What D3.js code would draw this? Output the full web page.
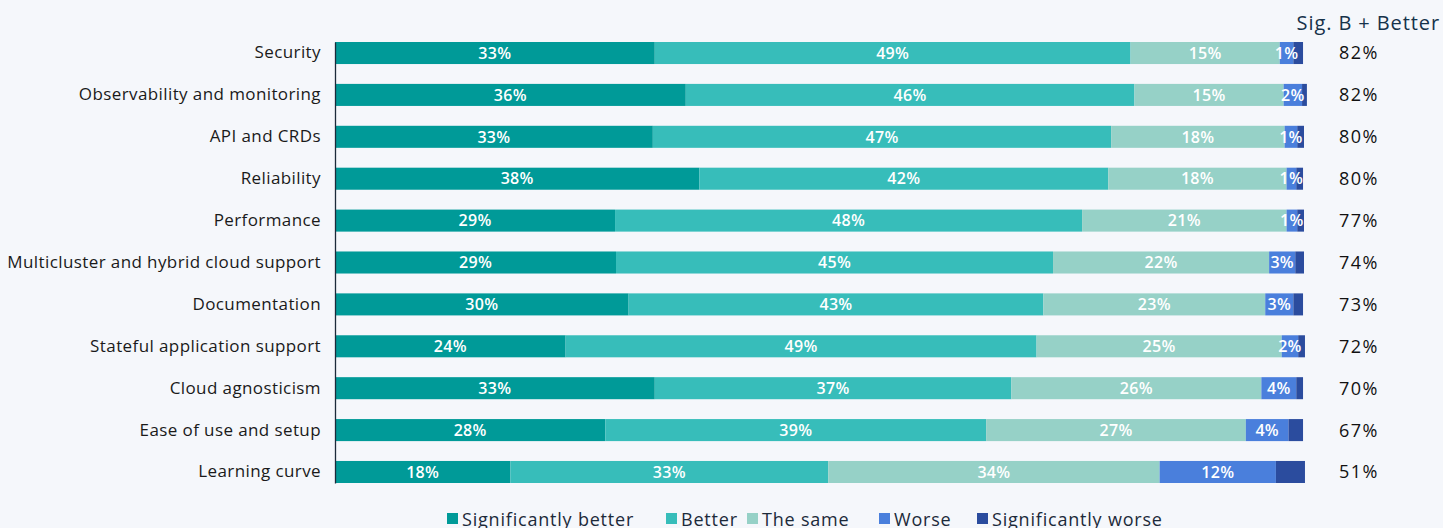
<!DOCTYPE html>
<html>
<head>
<meta charset="utf-8">
<script src="https://cdn.jsdelivr.net/npm/d3@7"></script>
<style>
  body { margin: 0; background: #f5f7fb; }
  svg { display: block; }
</style>
</head>
<body>
<div id="chart"></div>
<script>
const width = 1443;
const height = 528;
const margin = {top: 42, right: 139, bottom: 45, left: 335};

const categories = [
    "Security", "Observability and monitoring", "API and CRDs", "Reliability",
    "Performance", "Multicluster and hybrid cloud support", "Documentation",
    "Stateful application support", "Cloud agnosticism", "Ease of use and setup ",
    "Learning curve"
];
const seriesNames = ["Significantly better", "Better", "The same", "Worse", "Significantly worse"];
const colors = ["#009a98", "#37bdba", "#96d1c7", "#4a7fdc", "#2b4c9e"];

// values (percent)
const sigBetter = [33.0, 36.2, 32.8, 37.6, 28.9, 29.0, 30.3, 23.8, 33.0, 27.9, 18.1];
const better    = [49.1, 46.3, 47.3, 42.2, 48.2, 45.1, 42.8, 48.6, 36.8, 39.3, 32.8];
const same      = [15.4, 15.4, 17.9, 18.4, 21.1, 22.3, 22.9, 25.3, 25.8, 26.8, 34.2];
const worse     = [1.4, 1.9, 1.3, 1.0, 1.1, 2.7, 2.9, 1.7, 3.6, 4.4, 12.0];
const sigWorse  = [1.0, 0.5, 0.7, 0.7, 0.7, 0.9, 1.0, 0.7, 0.7, 1.5, 3.0];
const sigBPlusBetter = [82, 82, 80, 80, 77, 74, 73, 72, 70, 67, 51];

const series = [sigBetter, better, same, worse, sigWorse];

const rows = categories.map((c, i) => {
    const r = {cat: c};
    seriesNames.forEach((s, j) => r[s] = series[j][i]);
    return r;
});

const stacked = d3.stack().keys(seriesNames)(rows);

const svg = d3.select("#chart").append("svg")
    .attr("width", width)
    .attr("height", height);

const x = d3.scaleLinear().domain([0, 100]).range([margin.left, margin.left + 969]);
const y = d3.scaleBand().domain(categories)
    .range([margin.top, height - margin.bottom])
    .paddingInner(0.474)
    .paddingOuter(0);

const font = "Open Sans, sans-serif";

svg.append("g")
    .selectAll("g")
    .data(stacked)
    .join("g")
    .attr("fill", (d, i) => colors[i])
    .selectAll("rect")
    .data(d => d)
    .join("rect")
    .attr("x", d => x(d[0]))
    .attr("y", d => y(d.data.cat))
    .attr("width", d => x(d[1]) - x(d[0]))
    .attr("height", y.bandwidth());

// labels inside segments (not for significantly worse)
svg.append("g")
    .selectAll("g")
    .data(stacked.slice(0, 4))
    .join("g")
    .selectAll("text")
    .data(d => d)
    .join("text")
    .attr("x", d => (x(d[0]) + x(d[1])) / 2)
    .attr("y", d => y(d.data.cat) + y.bandwidth() / 2)
    .attr("dy", "0.36em")
    .attr("text-anchor", "middle")
    .attr("fill", "white")
    .style("font-family", font)
    .style("font-size", "16px")
    .style("font-weight", 600)
    .style("letter-spacing", "0.3px")
    .text(d => Math.round(d[1] - d[0]) + "%");

// y axis
const yAxis = svg.append("g")
    .attr("transform", "translate(" + margin.left + ",0)")
    .call(d3.axisLeft(y).tickSize(0).tickPadding(14));
yAxis.select(".domain").attr("stroke", "#1c2a3a").attr("stroke-width", 1.3);
yAxis.selectAll("text")
    .attr("fill", "#1a1a1a")
    .style("font-family", font)
    .style("font-size", "17px")
    .style("letter-spacing", "0.4px");

// right column
svg.append("text")
    .attr("x", 1440)
    .attr("y", 30)
    .attr("text-anchor", "end")
    .attr("fill", "#16324a")
    .style("font-family", font)
    .style("font-size", "20px")
    .style("letter-spacing", "0.9px")
    .text("Sig. B + Better");

svg.append("g")
    .selectAll("text")
    .data(sigBPlusBetter)
    .join("text")
    .attr("x", 1339)
    .attr("y", (d, i) => y(categories[i]) + y.bandwidth() / 2)
    .attr("dy", "0.36em")
    .attr("fill", "#111")
    .style("font-family", font)
    .style("font-size", "18px")
    .style("letter-spacing", "1.5px")
    .text(d => d + "%");

// legend
const legendX = [447, 666, 747, 879, 977];
const legend = svg.append("g")
    .selectAll("g")
    .data(seriesNames)
    .join("g")
    .attr("transform", (d, i) => "translate(" + legendX[i] + ",513)");
legend.append("rect")
    .attr("width", 11)
    .attr("height", 11)
    .attr("fill", (d, i) => colors[i]);
legend.append("text")
    .attr("x", 15)
    .attr("y", 13)
    .attr("fill", "#1c2a3a")
    .style("font-family", font)
    .style("font-size", "18px")
    .style("letter-spacing", "0.8px")
    .text(d => d);
</script>
</body>
</html>
